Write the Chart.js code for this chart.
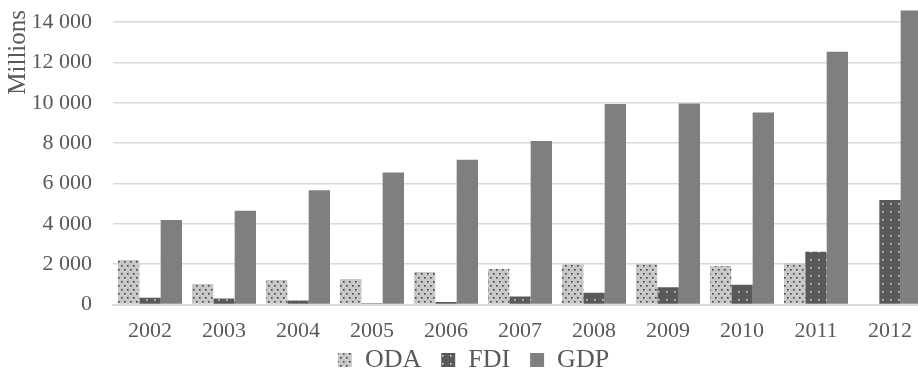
<!DOCTYPE html>
<html>
<head>
<meta charset="utf-8">
<script src="https://cdn.jsdelivr.net/npm/chart.js@4/dist/chart.umd.min.js"></script>
<style>
  html, body { margin: 0; padding: 0; background: #ffffff; overflow: hidden; }
  #wrap { width: 930px; height: 371px; }
</style>
</head>
<body>
<div id="wrap"><canvas id="chart" width="930" height="371"></canvas></div>
<script>
// Yearly flows, in millions
const years = ['2002', '2003', '2004', '2005', '2006', '2007', '2008', '2009', '2010', '2011', '2012'];
const oda = [2200, 1020, 1210, 1260, 1610, 1760, 1990, 2010, 1910, 2040, null];
const fdi = [330, 300, 200, 60, 120, 400, 580, 850, 980, 2620, 5180];
const gdp = [4190, 4650, 5670, 6550, 7180, 8100, 9940, 9970, 9520, 12530, 14580];
const yTicks = [0, 2000, 4000, 6000, 8000, 10000, 12000, 14000];

const TEXT = '#595959';
const FONT = 'Liberation Serif, "DejaVu Serif", serif';

// Dotted fill patterns for the two smaller series
function dotPattern(bg, dot, w, h, dots, size) {
  const c = document.createElement('canvas');
  c.width = w; c.height = h;
  const g = c.getContext('2d');
  g.fillStyle = bg;
  g.fillRect(0, 0, w, h);
  g.fillStyle = dot;
  dots.forEach(([x, y]) => g.fillRect(x, y, size, size));
  return g.createPattern(c, 'repeat');
}
const odaFill = dotPattern('#c8c8c8', '#3f3f3f', 6, 8, [[1, 1], [4, 5]], 1.6);
const fdiFill = dotPattern('#595959', '#d8d8d8', 8, 8, [[2, 3]], 1.6);

function fmt(v) {
  return String(v).replace(/\B(?=(\d{3})+(?!\d))/g, ' ');
}

// Keeps the bottom legend compact while leaving wide gaps between its items
const LEGEND_GAP = 20;
const legendHeight = {
  id: 'legendHeight',
  afterInit(chart) {
    const lg = chart.legend;
    const fit = lg.fit;
    lg.fit = function () {
      fit.call(this);
      this.height = 26;
    };
  },
  afterLayout(chart) {
    const lg = chart.legend;
    lg.top -= LEGEND_GAP - 2;
    lg.left += 10;
    lg.right += 10;
  }
};

new Chart(document.getElementById('chart'), {
  type: 'bar',
  data: {
    labels: years,
    datasets: [
      { label: 'ODA', data: oda, backgroundColor: odaFill, borderWidth: 0 },
      { label: 'FDI', data: fdi, backgroundColor: fdiFill, borderWidth: 0 },
      { label: 'GDP', data: gdp, backgroundColor: '#7f7f7f', borderWidth: 0 }
    ]
  },
  plugins: [legendHeight],
  options: {
    responsive: false,
    animation: false,
    devicePixelRatio: 1,
    layout: { padding: { top: 10, right: 3, left: 0, bottom: 0 } },
    datasets: { bar: { categoryPercentage: 0.865, barPercentage: 1.0 } },
    plugins: {
      tooltip: { enabled: false },
      legend: {
        position: 'bottom',
        labels: {
          color: TEXT,
          font: { family: FONT, size: 26 },
          boxWidth: 14,
          boxHeight: 14,
          padding: LEGEND_GAP
        }
      }
    },
    scales: {
      x: {
        grid: { display: false, drawTicks: false },
        border: { display: true, color: '#d9d9d9', width: 2 },
        ticks: { color: TEXT, font: { family: FONT, size: 22 }, padding: 14, maxRotation: 0 },
        afterFit: (s) => { s.height = 40.5; }
      },
      y: {
        min: 0,
        max: 14600,
        afterBuildTicks: (s) => { s.ticks = yTicks.map(v => ({ value: v })); },
        grid: { color: '#d9d9d9', lineWidth: 1.5, drawTicks: true, tickLength: 21, tickColor: 'rgba(0,0,0,0)' },
        border: { display: false },
        ticks: { color: TEXT, font: { family: FONT, size: 22, lineHeight: 0.9 }, padding: 0, callback: (v) => fmt(v) },
        title: {
          display: true,
          text: 'Millions',
          align: 'end',
          color: TEXT,
          font: { family: FONT, size: 25 },
          padding: { top: 3, bottom: 0 }
        },
        afterFit: (s) => { s.width = 113; }
      }
    }
  }
});
</script>
</body>
</html>
